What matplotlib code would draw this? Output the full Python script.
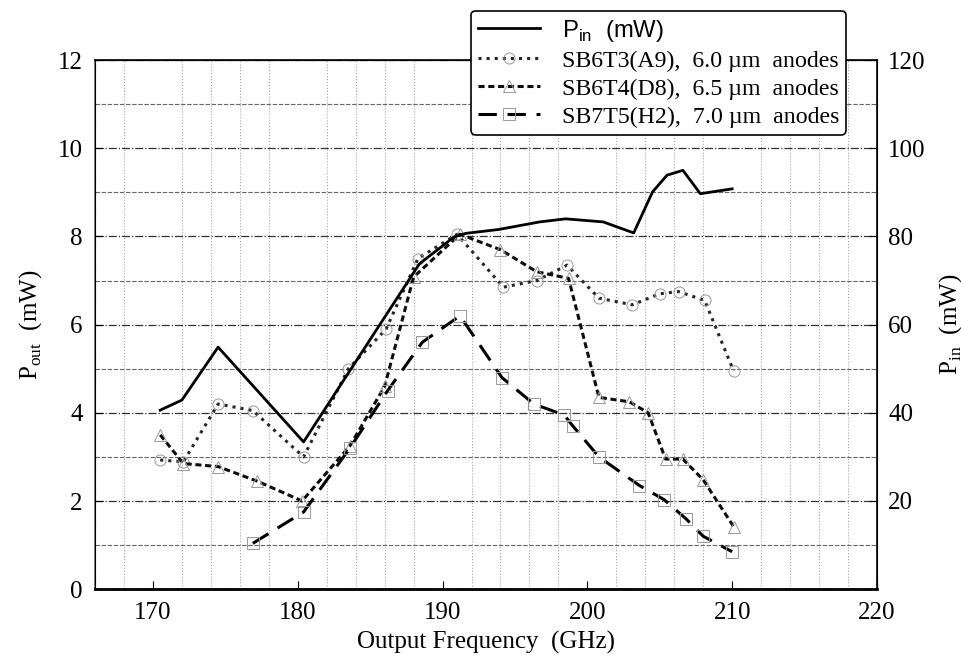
# P_out / P_in vs output frequency for three anode sizes

import matplotlib
matplotlib.use("Agg")
from matplotlib import pyplot as plt
from matplotlib.ticker import MultipleLocator

plt.rcParams['font.family'] = ['Liberation Serif', 'DejaVu Serif']
plt.rcParams['mathtext.fontset'] = 'custom'
plt.rcParams['mathtext.rm'] = 'Liberation Serif'
plt.rcParams['mathtext.sf'] = 'Liberation Sans'

# input power (right axis, mW)
pin_freq = [170.5, 172.0, 174.5, 180.4, 188.4, 190.8, 191.6, 193.9, 196.7, 198.5,
            201.1, 203.2, 204.5, 205.5, 206.6, 207.8, 210.0]
pin_mw = [40.6, 42.9, 54.9, 33.4, 73.8, 79.9, 80.7, 81.6, 83.3, 84.0,
          83.3, 80.8, 90.1, 93.9, 95.0, 89.7, 90.8]

# SB6T3(A9), 6.0 um anodes
a9_freq = [170.5, 172.1, 174.5, 176.9, 180.4, 183.5, 186.1, 188.3, 191.0, 194.2,
           196.5, 198.6, 200.8, 203.1, 205.0, 206.3, 208.1, 210.1]
a9_pout = [2.93, 2.89, 4.2, 4.05, 3.0, 5.0, 5.9, 7.5, 8.05, 6.85,
           7.0, 7.35, 6.6, 6.45, 6.7, 6.75, 6.55, 4.95]

# SB6T4(D8), 6.5 um anodes
d8_freq = [170.5, 172.1, 174.5, 177.2, 180.3, 183.6, 186.0, 188.0, 191.2, 194.0,
           196.5, 198.7, 200.8, 202.9, 204.2, 205.4, 206.6, 208.0, 210.1]
d8_pout = [3.5, 2.85, 2.78, 2.45, 2.0, 3.25, 4.6, 7.08, 8.05, 7.7,
           7.2, 7.05, 4.35, 4.25, 4.0, 2.95, 2.95, 2.48, 1.42]

# SB7T5(H2), 7.0 um anodes
h2_freq = [176.9, 180.4, 183.6, 186.2, 188.6, 191.2, 194.1, 196.3, 198.4, 199.0,
           200.8, 203.6, 205.3, 206.8, 208.0, 210.0]
h2_pout = [1.04, 1.75, 3.2, 4.5, 5.6, 6.2, 4.8, 4.2, 3.95, 3.7,
           3.0, 2.35, 2.03, 1.6, 1.2, 0.85]

fig = plt.figure(figsize=(9.62, 6.68), dpi=100)
ax = fig.add_axes([0.0988, 0.118, 0.8128, 0.792])
ax2 = ax.twinx()

ax.set_xlim(166, 220)
ax.set_ylim(0, 12)
ax2.set_ylim(0, 120)

ax.xaxis.set_major_locator(MultipleLocator(10))
ax.xaxis.set_minor_locator(MultipleLocator(2))
ax.yaxis.set_major_locator(MultipleLocator(2))
ax.yaxis.set_minor_locator(MultipleLocator(1))
ax2.set_yticks([20, 40, 60, 80, 100, 120])

ax.grid(which='major', axis='y', linestyle='-.', color='0.2', linewidth=0.9)
ax.grid(which='minor', axis='y', linestyle='--', dashes=(4, 1.5), color='0.4', linewidth=0.8)
ax.grid(which='minor', axis='x', linestyle=':', color='0.65', linewidth=0.8)
ax.set_axisbelow(True)

ax.tick_params(which='major', direction='in', length=6, labelsize=18, pad=9)
ax.tick_params(which='minor', length=0)
ax2.tick_params(direction='in', length=6, labelsize=18, pad=8)

mk = dict(markersize=8, markerfacecolor='none', markeredgecolor='0.6', markeredgewidth=0.7)

l0, = ax2.plot(pin_freq, pin_mw, color='black', linewidth=2.0, zorder=5)
l1, = ax.plot(a9_freq, a9_pout, color='0.15', linestyle=':', linewidth=2.2,
              marker='o', zorder=4, **mk)
l2, = ax.plot(d8_freq, d8_pout, color='0.05', linestyle=(0, (2.0, 1.2)), linewidth=2.2,
              marker='^', zorder=4, **mk)
l3, = ax.plot(h2_freq, h2_pout, color='black', linestyle=(0, (6, 3.5)), linewidth=2.2,
              marker='s', zorder=4, **mk)

ax.set_xlabel('Output Frequency  (GHz)', fontsize=18, labelpad=5)
ax.set_ylabel(r'P$_{\rm out}$  (mW)', fontsize=18, labelpad=10)
ax2.set_ylabel(r'P$_{\rm in}$  (mW)', fontsize=18, labelpad=8)

for s in ax.spines.values():
    s.set_linewidth(1.2)
ax.spines['bottom'].set_linewidth(2.0)
ax.spines['left'].set_color('0.4')

labels = [r'P$_{\mathsf{in}}$  (mW)',
          u'SB6T3(A9),  6.0 \u00b5m  anodes',
          u'SB6T4(D8),  6.5 \u00b5m  anodes',
          u'SB7T5(H2),  7.0 \u00b5m  anodes']
leg = fig.legend([l0, l1, l2, l3], labels, loc='upper right', bbox_to_anchor=(0.892, 1.002),
                 fontsize=17.2, numpoints=1, handlelength=2.6, labelspacing=0.26,
                 fancybox=True, framealpha=1, edgecolor='black', borderpad=0.3,
                 handletextpad=0.9)
leg.get_frame().set_linewidth(1.2)
leg.get_texts()[0].set_fontfamily('Liberation Sans')
leg.set_zorder(10)

plt.savefig('out.png', dpi=100)
